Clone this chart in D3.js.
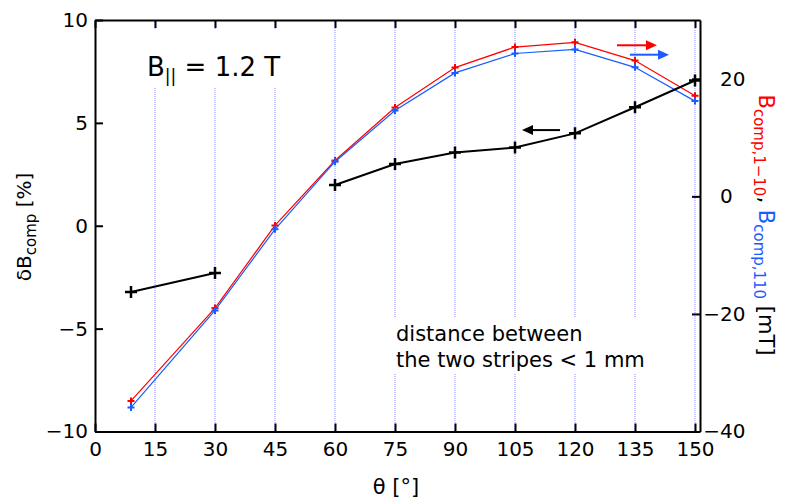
<!DOCTYPE html>
<html>
<head>
<meta charset="utf-8">
<script src="https://cdn.jsdelivr.net/npm/d3@7"></script>
<style>
  html, body { margin: 0; padding: 0; background: #fff; }
  svg { display: block; }
  text { font-family: "DejaVu Sans", sans-serif; fill: #000; }
</style>
</head>
<body>
<svg id="chart" width="789" height="500"></svg>
<script>
// Angles (degrees) at which the stripes were measured
const thetaRel = [9, 30, 45, 60, 75, 90, 105, 120, 135, 150];
// Relative compensation δB_comp [%] (no value at 45°)
const deltaB = [-3.22, -2.30, null, 1.98, 3.00, 3.56, 3.80, 4.49, 5.76, 7.06];
// Compensation fields [mT]
const thetaField = [9, 30, 45, 60, 75, 90, 105, 120, 135, 150];
const bComp1m10 = [-34.8, -19.0, -4.95, 6.1, 15.1, 21.9, 25.4, 26.2, 23.1, 17.1]; // B_comp,1-10
const bComp110 = [-35.9, -19.4, -5.6, 5.9, 14.6, 21.0, 24.3, 25.0, 21.95, 16.2]; // B_comp,110
// Axis ticks
const xTicks = [0, 15, 30, 45, 60, 75, 90, 105, 120, 135, 150];
const yLeftTicks = [-10, -5, 0, 5, 10];
const yRightTicks = [-40, -20, 0, 20];

const RED = "#ff0000", BLUE = "#1a5cff", GRID = "#8c8cff";
const svg = d3.select("#chart");
const L = 95, R = 700, T = 20, B = 431.5;

const x = d3.scaleLinear().domain([0, 151.25]).range([L, R]);
const yL = d3.scaleLinear().domain([-10, 10]).range([B, T]);
const yR = d3.scaleLinear().domain([-40, 30]).range([B, T]);
const fmt = v => (v < 0 ? "\u2212" + Math.abs(v) : String(v));

// vertical dotted grid
svg.append("g").selectAll("line").data(xTicks.filter(d => d > 0)).join("line")
  .attr("x1", d => x(d)).attr("x2", d => x(d))
  .attr("y1", T).attr("y2", B)
  .attr("stroke", GRID).attr("stroke-width", 1).attr("stroke-dasharray", "1 1");

// white panels behind annotation text
svg.append("rect").attr("x", 140).attr("y", 30).attr("width", 148).attr("height", 57).attr("fill", "#fff");
svg.append("rect").attr("x", 388).attr("y", 318).attr("width", 268).attr("height", 55).attr("fill", "#fff");

// axes
function styleAxis(g) {
  g.select(".domain").attr("stroke", "#000").attr("stroke-width", 2);
  g.selectAll(".tick line").attr("stroke", "#000").attr("stroke-width", 2);
  g.selectAll(".tick text").style("font-family", "DejaVu Sans, sans-serif").style("font-size", "20px").attr("fill", "#000");
}
svg.append("g").attr("transform", `translate(0,${B})`)
  .call(d3.axisBottom(x).tickValues(xTicks).tickFormat(fmt).tickSizeInner(-8).tickSizeOuter(0).tickPadding(10))
  .call(styleAxis);
svg.append("g").attr("transform", `translate(0,${T})`)
  .call(d3.axisTop(x).tickValues(xTicks).tickFormat("").tickSizeInner(-8).tickSizeOuter(0))
  .call(styleAxis);
svg.append("g").attr("transform", `translate(${L},0)`)
  .call(d3.axisLeft(yL).tickValues(yLeftTicks).tickFormat(fmt).tickSizeInner(-8).tickSizeOuter(0).tickPadding(7))
  .call(styleAxis);
const rAxis = svg.append("g").attr("transform", `translate(${R},0)`)
  .call(d3.axisRight(yR).tickValues(yRightTicks).tickFormat(fmt).tickSizeInner(-8).tickSizeOuter(0).tickPadding(20))
  .call(styleAxis);
// right-axis digits line up; the minus sign hangs out to the left
const probe = svg.append("text").style("font-size", "20px").text("\u2212");
const minusW = probe.node().getComputedTextLength();
probe.remove();
rAxis.selectAll(".tick text").attr("dx", d => (d < 0 ? -minusW : 0));

// data lines
function series(xs, ys, yScale, color, lw, arm, mw) {
  const pts = xs.map((t, i) => [t, ys[i]]);
  svg.append("path").datum(pts)
    .attr("fill", "none").attr("stroke", color).attr("stroke-width", lw)
    .attr("d", d3.line().defined(d => d[1] != null).x(d => x(d[0])).y(d => yScale(d[1])));
  svg.append("g").selectAll("path").data(pts.filter(d => d[1] != null)).join("path")
    .attr("transform", d => `translate(${x(d[0])},${yScale(d[1])})`)
    .attr("d", `M${-arm},0H${arm}M0,${-arm}V${arm}`)
    .attr("stroke", color).attr("stroke-width", mw).attr("fill", "none");
}
series(thetaField, bComp1m10, yR, RED, 1.2, 3.5, 2);
series(thetaField, bComp110, yR, BLUE, 1.2, 3.5, 2);
series(thetaRel, deltaB, yL, "#000", 2, 6, 2.5);

// arrows telling which axis each series belongs to
function arrow(x0, x1, yy, color) {
  const dir = Math.sign(x1 - x0), hl = 11, hw = 5;
  svg.append("line").attr("x1", x0).attr("x2", x1 - dir * hl).attr("y1", yy).attr("y2", yy)
    .attr("stroke", color).attr("stroke-width", 2);
  svg.append("path").attr("d", `M${x1},${yy}L${x1 - dir * hl},${yy - hw}L${x1 - dir * hl},${yy + hw}Z`).attr("fill", color);
}
arrow(x(116.25), x(106.75), yL(4.65), "#000");
arrow(x(130.5), x(140.5), yR(25.7), RED);
arrow(x(133.75), x(143.5), yR(24.1), BLUE);

// annotations
const ann = svg.append("text").attr("x", 147).attr("y", 76).style("font-size", "26px");
ann.append("tspan").text("B");
ann.append("tspan").attr("dy", 6).style("font-size", "17px").text("||");
ann.append("tspan").attr("dy", -6).text(" = 1.2 T");

const note = svg.append("text").style("font-size", "21px");
note.append("tspan").attr("x", 396).attr("y", 341).text("distance between");
note.append("tspan").attr("x", 396).attr("y", 367).text("the two stripes < 1 mm");

// axis titles
svg.append("text").attr("x", 396).attr("y", 494).attr("text-anchor", "middle")
  .style("font-size", "21px").text("θ [°]");

const yl = svg.append("text").attr("transform", "translate(31,227) rotate(-90)")
  .attr("text-anchor", "middle").style("font-size", "20px");
yl.append("tspan").text("δB");
yl.append("tspan").attr("dy", 5).style("font-size", "15px").text("comp");
yl.append("tspan").attr("dy", -5).text(" [%]");

const yr = svg.append("text").attr("transform", "translate(759,225) rotate(90)")
  .attr("text-anchor", "middle").style("font-size", "21px");
yr.append("tspan").attr("fill", RED).text("B");
yr.append("tspan").attr("fill", RED).attr("dy", 5).style("font-size", "15px").text("comp,1\u221210");
yr.append("tspan").attr("dy", -5).text(", ");
yr.append("tspan").attr("fill", BLUE).text("B");
yr.append("tspan").attr("fill", BLUE).attr("dy", 5).style("font-size", "15px").text("comp,110");
yr.append("tspan").attr("dy", -5).text(" [mT]");
</script>
</body>
</html>
